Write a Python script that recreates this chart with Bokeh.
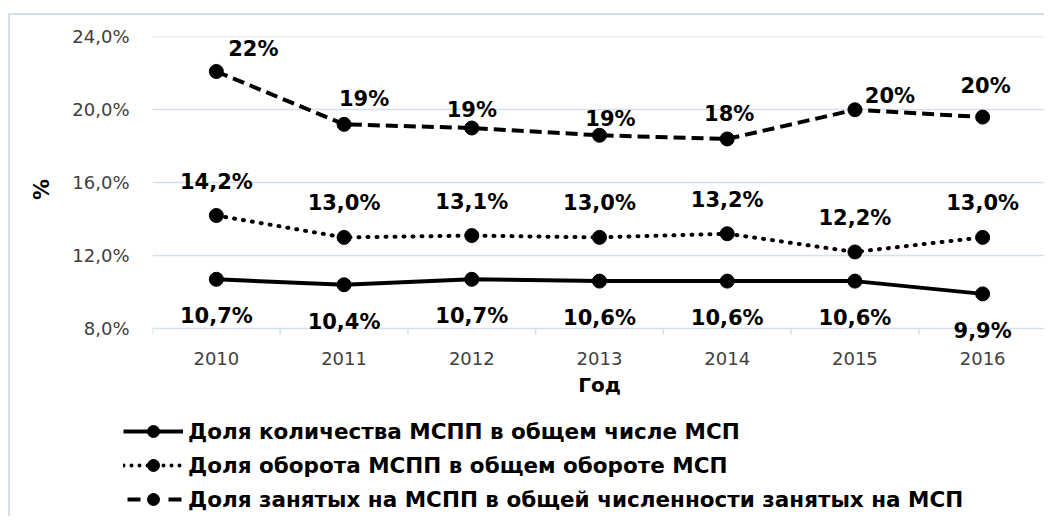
from bokeh.plotting import figure
from bokeh.layouts import column
from bokeh.models import (Range1d, FixedTicker, Legend, LegendItem, ColumnDataSource)
from bokeh.core.properties import value
from bokeh.embed import file_html
from bokeh.resources import INLINE

# ---- data ----
years = [2010, 2011, 2012, 2013, 2014, 2015, 2016]
share_count = [10.7, 10.4, 10.7, 10.6, 10.6, 10.6, 9.9]       # solid
share_turnover = [14.2, 13.0, 13.1, 13.0, 13.2, 12.2, 13.0]   # dotted
share_employed = [22.1, 19.2, 19.0, 18.6, 18.4, 20.0, 19.6]   # dashed
y_ticks = [8, 12, 16, 20, 24]
series_names = [
    "Доля количества МСПП в общем числе МСП",
    "Доля оборота МСПП в общем обороте МСП",
    "Доля занятых на МСПП в общей численности занятых на МСП",
]
x_title = "Год"
y_title = "%"

# label placement (style only, screen px)
emp_dx = [37, 20, 0, 11, 2, 35, 3]
emp_dy = [22, 25, 18, 16, 25, 14, 31]

FONT = "DejaVu Sans"
GRID = "#d6dfee"
BORDER = "2px solid #d3ddec"
PX_PER_UNIT = 73 / 4.0          # vertical scale used for small screen-size paddings
pad_below = 14 / PX_PER_UNIT     # room under the 8% line for the lower labels
tick_len = 6 / PX_PER_UNIT

p = figure(width=1036, height=390, output_backend="svg", toolbar_location=None,
           x_range=Range1d(years[0] - 0.5, years[-1] + 0.5),
           y_range=Range1d(y_ticks[0] - pad_below, y_ticks[-1] + 0.02),
           min_border_left=142, min_border_right=0, min_border_top=21, min_border_bottom=63)
p.frame_align = False
p.styles = {"border-left": BORDER, "border-top": BORDER, "margin-top": "13px", "margin-left": "8px"}
p.outline_line_color = None
p.background_fill_color = "white"
p.border_fill_color = "white"

# x axis (line is the 8% grid line; ticks drawn at category boundaries)
p.xaxis.ticker = FixedTicker(ticks=years)
p.xaxis.axis_line_color = None
p.xaxis.major_tick_line_color = None
p.xaxis.minor_tick_line_color = None
p.xaxis.major_label_text_font = FONT
p.xaxis.major_label_text_font_size = "18px"
p.xaxis.major_label_text_color = "#404040"
p.xaxis.major_label_standoff = 3
p.xaxis.axis_label = x_title
p.xaxis.axis_label_text_font = FONT
p.xaxis.axis_label_text_font_style = "bold"
p.xaxis.axis_label_text_font_size = "20px"
p.xaxis.axis_label_text_color = "black"
p.xaxis.axis_label_standoff = 5

bounds = [y - 0.5 for y in years] + [years[-1] + 0.5]
p.segment(x0=bounds, x1=bounds, y0=[y_ticks[0]] * len(bounds),
          y1=[y_ticks[0] - tick_len] * len(bounds), line_color=GRID, line_width=1.5)

p.yaxis.ticker = FixedTicker(ticks=y_ticks)
p.yaxis.major_label_overrides = {t: f"{t:.1f}%".replace(".", ",") for t in y_ticks}
p.yaxis.axis_line_color = None
p.yaxis.major_tick_line_color = None
p.yaxis.minor_tick_line_color = None
p.yaxis.major_label_text_font = FONT
p.yaxis.major_label_text_font_size = "18px"
p.yaxis.major_label_text_color = "#404040"
p.yaxis.major_label_standoff = 17
p.yaxis.axis_label = y_title
p.yaxis.axis_label_text_font = FONT
p.yaxis.axis_label_text_font_style = "bold"
p.yaxis.axis_label_text_font_size = "21px"
p.yaxis.axis_label_text_color = "black"
p.yaxis.axis_label_standoff = 15

p.xgrid.grid_line_color = None
p.ygrid.ticker = FixedTicker(ticks=y_ticks)
p.ygrid.grid_line_color = GRID
p.ygrid.grid_line_width = 1.5

# line styles
styles = [
    dict(line_color="black", line_width=4),
    dict(line_color="black", line_width=4, line_dash="1 8", line_cap="round"),
    dict(line_color="black", line_width=4, line_dash="12 6"),
]
series = [share_count, share_turnover, share_employed]
for vals, st in zip(series, styles):
    p.line(years, vals, **st)
    p.scatter(years, vals, size=14, color="black")

def fmt1(v):
    return f"{v:.1f}%".replace(".", ",")

lab_kw = dict(text_font=value(FONT), text_font_style="bold", text_font_size="21px",
              text_color="black", text_align="center", text_baseline="middle")

src1 = ColumnDataSource(dict(x=years, y=share_count, t=[fmt1(v) for v in share_count]))
p.text(x="x", y="y", text="t", source=src1, y_offset=37, **lab_kw)

src2 = ColumnDataSource(dict(x=years, y=share_turnover, t=[fmt1(v) for v in share_turnover]))
p.text(x="x", y="y", text="t", source=src2, y_offset=-34, **lab_kw)

src3 = ColumnDataSource(dict(x=years, y=share_employed, t=[f"{round(v):d}%" for v in share_employed],
                             dx=emp_dx, dy=[-d for d in emp_dy]))
p.text(x="x", y="y", text="t", source=src3, x_offset="dx", y_offset="dy", **lab_kw)

# ---- legend panel (its own small figure; series drawn out of view, only used as legend glyphs) ----
p2 = figure(width=1036, height=113, output_backend="svg", toolbar_location=None,
            x_axis_location=None, y_axis_location=None,
            x_range=Range1d(0, 1), y_range=Range1d(0, 1),
            min_border_left=0, min_border_right=0, min_border_top=0, min_border_bottom=0)
p2.frame_align = False
p2.styles = {"border-left": BORDER, "margin-left": "8px"}
p2.outline_line_color = None
p2.grid.visible = False
p2.border_fill_color = "white"

legend_styles = [
    dict(line_color="black", line_width=4),
    dict(line_color="black", line_width=4, line_dash="0 8", line_cap="round"),
    dict(line_color="black", line_width=4, line_dash="0 4 13 24"),
]
items = []
for name, vals, st in zip(series_names, series, legend_styles):
    lr = p2.line(years, vals, **st)
    mr = p2.scatter(years, vals, size=13, color="black")
    items.append(LegendItem(label=name, renderers=[lr, mr]))

legend = Legend(items=items, location=(113, 2))
legend.glyph_width = 60
legend.glyph_height = 30
legend.label_height = 30
legend.spacing = 4
legend.padding = 0
legend.margin = 0
legend.label_standoff = 5
legend.border_line_alpha = 0
legend.background_fill_alpha = 0
legend.label_text_font = FONT
legend.label_text_font_style = "bold"
legend.label_text_font_size = "21.5px"
legend.label_text_color = "black"
p2.add_layout(legend, "center")

layout = column(p, p2, spacing=0)
open("out.html", "w").write(file_html(layout, INLINE))
